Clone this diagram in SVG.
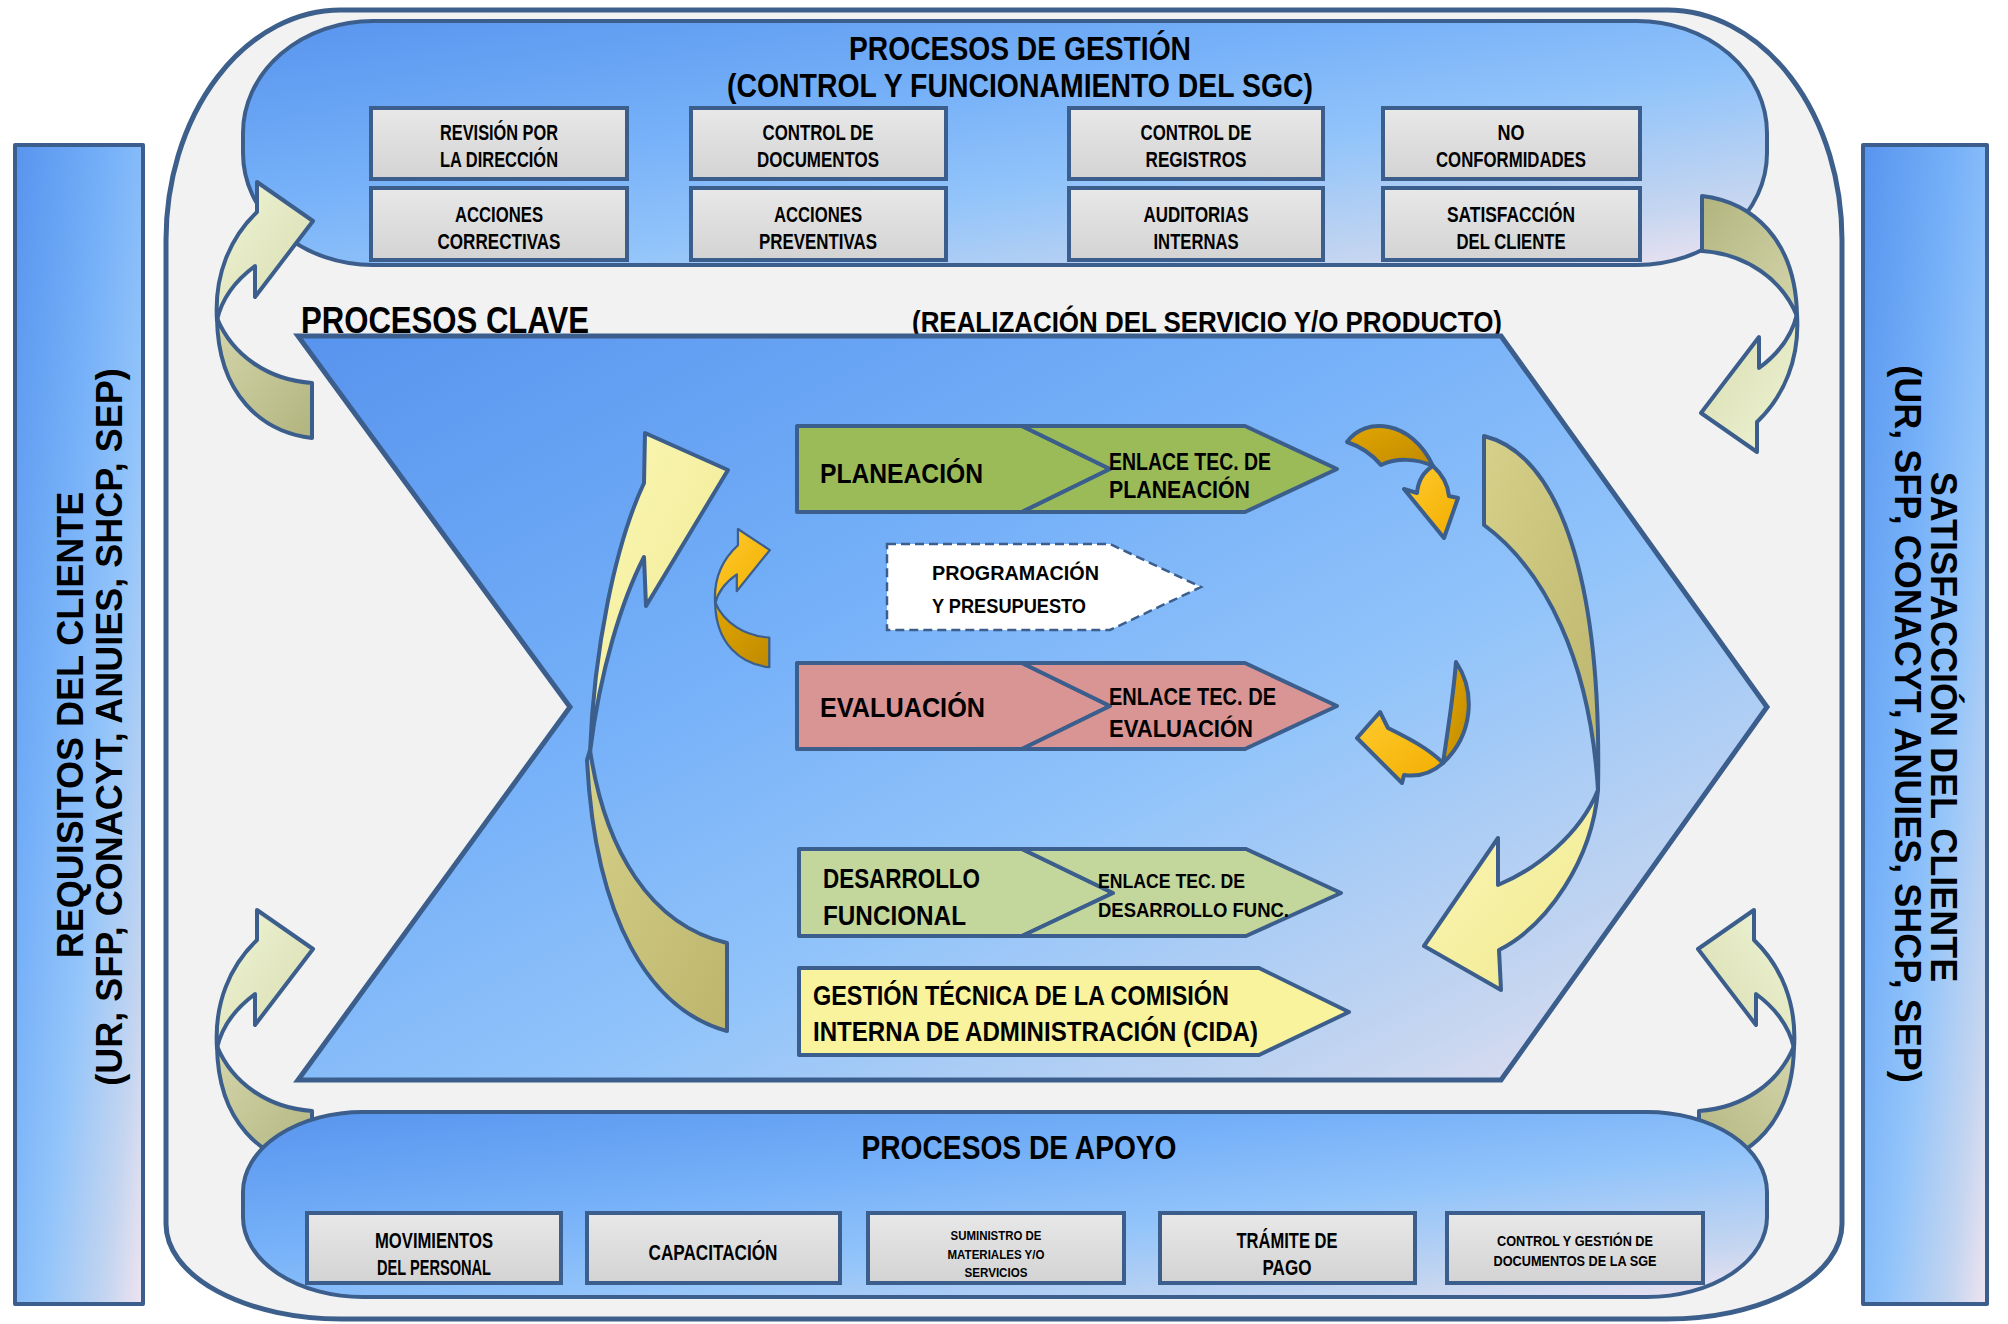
<svg xmlns="http://www.w3.org/2000/svg" width="2008" height="1324" viewBox="0 0 2008 1324">
<defs>
<linearGradient id="gBlue" x1="0" y1="0" x2="1" y2="1">
<stop offset="0" stop-color="#5894ee"/><stop offset="0.35" stop-color="#74aff8"/><stop offset="0.6" stop-color="#92c4fa"/><stop offset="0.85" stop-color="#c4d5f0"/><stop offset="1" stop-color="#f0e4f0"/>
</linearGradient>
<linearGradient id="gGray" x1="0" y1="0" x2="0" y2="1"><stop offset="0" stop-color="#e8e8e8"/><stop offset="1" stop-color="#d3d3d3"/></linearGradient>
<linearGradient id="gPale" x1="0" y1="0" x2="1" y2="1"><stop offset="0" stop-color="#f0f4d6"/><stop offset="1" stop-color="#d6dcae"/></linearGradient>
<linearGradient id="gOlive" x1="0" y1="0" x2="1" y2="1"><stop offset="0" stop-color="#d4d6ac"/><stop offset="1" stop-color="#b2b47e"/></linearGradient>
<linearGradient id="gYel" x1="0" y1="0" x2="1" y2="1"><stop offset="0" stop-color="#fbf8b6"/><stop offset="1" stop-color="#efe78e"/></linearGradient>
<linearGradient id="gYelD" x1="0" y1="0" x2="1" y2="1"><stop offset="0" stop-color="#d6d08a"/><stop offset="1" stop-color="#bdb56c"/></linearGradient>
<linearGradient id="gOr" x1="0" y1="0" x2="1" y2="1"><stop offset="0" stop-color="#ffcb2e"/><stop offset="1" stop-color="#f2ad00"/></linearGradient>
<linearGradient id="gOrD" x1="0" y1="0" x2="1" y2="1"><stop offset="0" stop-color="#e2a600"/><stop offset="1" stop-color="#c08a00"/></linearGradient>
<path id="caU" d="M 217 320 C 214 275 230 238 257 212 L 257 182 L 313 221 L 255 297 L 255 266 C 236 280 222 298 217 320 Z"/>
<path id="caL" d="M 217 318 C 232 355 268 380 312 383 L 312 438 C 262 432 218 395 217 318 Z"/>
</defs>
<style>
.ln{stroke:#3b5e8c;stroke-width:4;stroke-linejoin:round}
.box{fill:url(#gGray);stroke:#3b5e8c;stroke-width:4}
.t{font-family:"Liberation Sans Narrow","Liberation Sans",Arial,sans-serif;font-weight:bold;fill:#000;text-anchor:middle}
.k{font-family:"Liberation Sans",Arial,sans-serif;font-weight:bold;fill:#000}
.v{font-family:"Liberation Sans",Arial,sans-serif;font-weight:bold;font-size:36px;fill:#000;text-anchor:middle}
</style>
<rect width="2008" height="1324" fill="#ffffff"/>

<g id="requisitos">
<rect x="15" y="145" width="128" height="1159" fill="url(#gBlue)" class="ln"/>
<text class="v" transform="translate(83,725) rotate(-90)">REQUISITOS DEL CLIENTE</text>
<text class="v" transform="translate(122,727) rotate(-90)">(UR, SFP, CONACYT, ANUIES, SHCP, SEP)</text>
</g>
<g id="satisfaccion">
<rect x="1863" y="145" width="124" height="1159" fill="url(#gBlue)" class="ln"/>
<text class="v" transform="translate(1931,727) rotate(90)">SATISFACCIÓN DEL CLIENTE</text>
<text class="v" transform="translate(1895,724) rotate(90)">(UR, SFP, CONACYT, ANUIES, SHCP, SEP)</text>
</g>

<g id="contenedor">
<path d="M 341 10 H 1667 A 175 230 0 0 1 1842 240 V 1224 A 175 95 0 0 1 1667 1319 H 341 A 175 95 0 0 1 166 1224 V 240 A 175 230 0 0 1 341 10 Z" fill="#f2f2f2" stroke="#3d5f8b" stroke-width="5"/>
</g>

<g id="gestion">
<rect x="243" y="21" width="1524" height="244" rx="130" ry="112" fill="url(#gBlue)" class="ln"/>
<text class="t" x="1020" y="60" font-size="33" textLength="342" lengthAdjust="spacingAndGlyphs">PROCESOS DE GESTIÓN</text>
<text class="t" x="1020" y="97" font-size="33" textLength="586" lengthAdjust="spacingAndGlyphs">(CONTROL Y FUNCIONAMIENTO DEL SGC)</text>
</g>
<g id="g-revision"><rect class="box" x="371" y="108" width="256" height="71"/>
<text class="t" x="499" y="140" font-size="22" textLength="118" lengthAdjust="spacingAndGlyphs">REVISIÓN POR</text>
<text class="t" x="499" y="167" font-size="22" textLength="118" lengthAdjust="spacingAndGlyphs">LA DIRECCIÓN</text></g>
<g id="g-documentos"><rect class="box" x="691" y="108" width="255" height="71"/>
<text class="t" x="818" y="140" font-size="22" textLength="111" lengthAdjust="spacingAndGlyphs">CONTROL DE</text>
<text class="t" x="818" y="167" font-size="22" textLength="122" lengthAdjust="spacingAndGlyphs">DOCUMENTOS</text></g>
<g id="g-registros"><rect class="box" x="1069" y="108" width="254" height="71"/>
<text class="t" x="1196" y="140" font-size="22" textLength="111" lengthAdjust="spacingAndGlyphs">CONTROL DE</text>
<text class="t" x="1196" y="167" font-size="22" textLength="101" lengthAdjust="spacingAndGlyphs">REGISTROS</text></g>
<g id="g-noconf"><rect class="box" x="1383" y="108" width="257" height="71"/>
<text class="t" x="1511" y="140" font-size="22" textLength="27" lengthAdjust="spacingAndGlyphs">NO</text>
<text class="t" x="1511" y="167" font-size="22" textLength="150" lengthAdjust="spacingAndGlyphs">CONFORMIDADES</text></g>
<g id="g-correctivas"><rect class="box" x="371" y="188" width="256" height="72"/>
<text class="t" x="499" y="222" font-size="22" textLength="88" lengthAdjust="spacingAndGlyphs">ACCIONES</text>
<text class="t" x="499" y="249" font-size="22" textLength="123" lengthAdjust="spacingAndGlyphs">CORRECTIVAS</text></g>
<g id="g-preventivas"><rect class="box" x="691" y="188" width="255" height="72"/>
<text class="t" x="818" y="222" font-size="22" textLength="88" lengthAdjust="spacingAndGlyphs">ACCIONES</text>
<text class="t" x="818" y="249" font-size="22" textLength="118" lengthAdjust="spacingAndGlyphs">PREVENTIVAS</text></g>
<g id="g-auditorias"><rect class="box" x="1069" y="188" width="254" height="72"/>
<text class="t" x="1196" y="222" font-size="22" textLength="105" lengthAdjust="spacingAndGlyphs">AUDITORIAS</text>
<text class="t" x="1196" y="249" font-size="22" textLength="85" lengthAdjust="spacingAndGlyphs">INTERNAS</text></g>
<g id="g-satisfaccion"><rect class="box" x="1383" y="188" width="257" height="72"/>
<text class="t" x="1511" y="222" font-size="22" textLength="128" lengthAdjust="spacingAndGlyphs">SATISFACCIÓN</text>
<text class="t" x="1511" y="249" font-size="22" textLength="109" lengthAdjust="spacingAndGlyphs">DEL CLIENTE</text></g>

<g id="clave">
<text class="k" x="301" y="333" font-size="36" textLength="288" lengthAdjust="spacingAndGlyphs">PROCESOS CLAVE</text>
<text class="k" x="912" y="332" font-size="30" textLength="590" lengthAdjust="spacingAndGlyphs">(REALIZACIÓN DEL SERVICIO Y/O PRODUCTO)</text>
<polygon points="298,336 1501,336 1767,707 1501,1080 298,1080 570,707" fill="url(#gBlue)" stroke="#3b5e8c" stroke-width="5" stroke-linejoin="miter"/>
</g>

<g id="planeacion">
<polygon class="ln" points="797,426 1022,426 1110,469 1022,512 797,512" fill="#9bbb59" stroke-width="3"/>
<polygon class="ln" points="1022,426 1245,426 1337,469 1245,512 1022,512 1110,469" fill="#9bbb59" stroke-width="3"/>
<text class="k" x="820" y="483" font-size="28" textLength="163" lengthAdjust="spacingAndGlyphs">PLANEACIÓN</text>
<text class="k" x="1109" y="470" font-size="24" textLength="162" lengthAdjust="spacingAndGlyphs">ENLACE TEC. DE</text>
<text class="k" x="1109" y="498" font-size="24" textLength="141" lengthAdjust="spacingAndGlyphs">PLANEACIÓN</text>
</g>
<g id="programacion">
<polygon points="887,544 1110,544 1201,587 1110,630 887,630" fill="#ffffff" stroke="#3b5e8c" stroke-width="2.5" stroke-dasharray="9 5"/>
<text class="k" x="932" y="580" font-size="21" textLength="167" lengthAdjust="spacingAndGlyphs">PROGRAMACIÓN</text>
<text class="k" x="932" y="613" font-size="21" textLength="154" lengthAdjust="spacingAndGlyphs">Y PRESUPUESTO</text>
</g>
<g id="evaluacion">
<polygon class="ln" points="797,663 1022,663 1110,706 1022,749 797,749" fill="#d99594" stroke-width="3"/>
<polygon class="ln" points="1022,663 1245,663 1337,706 1245,749 1022,749 1110,706" fill="#d99594" stroke-width="3"/>
<text class="k" x="820" y="717" font-size="28" textLength="165" lengthAdjust="spacingAndGlyphs">EVALUACIÓN</text>
<text class="k" x="1109" y="705" font-size="24" textLength="167" lengthAdjust="spacingAndGlyphs">ENLACE TEC. DE</text>
<text class="k" x="1109" y="737" font-size="24" textLength="144" lengthAdjust="spacingAndGlyphs">EVALUACIÓN</text>
</g>
<g id="desarrollo">
<polygon class="ln" points="799,849 1022,849 1113,893 1022,936 799,936" fill="#c3d69b" stroke-width="3"/>
<polygon class="ln" points="1022,849 1246,849 1341,893 1246,936 1022,936 1113,893" fill="#c3d69b" stroke-width="3"/>
<text class="k" x="823" y="888" font-size="28" textLength="157" lengthAdjust="spacingAndGlyphs">DESARROLLO</text>
<text class="k" x="823" y="925" font-size="28" textLength="143" lengthAdjust="spacingAndGlyphs">FUNCIONAL</text>
<text class="k" x="1098" y="888" font-size="20" textLength="147" lengthAdjust="spacingAndGlyphs">ENLACE TEC. DE</text>
<text class="k" x="1098" y="917" font-size="20" textLength="191" lengthAdjust="spacingAndGlyphs">DESARROLLO FUNC.</text>
</g>
<g id="cida">
<polygon class="ln" points="799,968 1259,968 1349,1012 1259,1055 799,1055" fill="#f8f39c" stroke-width="3"/>
<text class="k" x="813" y="1005" font-size="28" textLength="416" lengthAdjust="spacingAndGlyphs">GESTIÓN TÉCNICA DE LA COMISIÓN</text>
<text class="k" x="813" y="1041" font-size="28" textLength="445" lengthAdjust="spacingAndGlyphs">INTERNA DE ADMINISTRACIÓN (CIDA)</text>
</g>

<g id="connectors">
<g id="arrow-tl"><use href="#caL" fill="url(#gOlive)" class="ln"/><use href="#caU" fill="url(#gPale)" class="ln"/></g>
<g id="arrow-tr" transform="rotate(180 1007 317)"><use href="#caL" fill="url(#gOlive)" class="ln"/><use href="#caU" fill="url(#gPale)" class="ln"/></g>
<g id="arrow-bl" transform="translate(0 728)"><use href="#caL" fill="url(#gOlive)" class="ln"/><use href="#caU" fill="url(#gPale)" class="ln"/></g>
<g id="arrow-br" transform="translate(2011 728) scale(-1 1)"><use href="#caL" fill="url(#gOlive)" class="ln"/><use href="#caU" fill="url(#gPale)" class="ln"/></g>
<g id="big-left">
<path class="ln" fill="url(#gYelD)" d="M 590 750 C 605 850 650 925 727 943 L 727 1031 C 650 1010 595 920 587 760 Z"/>
<path class="ln" fill="url(#gYel)" d="M 645 433 L 728 470 L 646 606 L 644 557 C 622 600 600 670 590 752 C 594 650 615 545 644 483 Z"/>
</g>
<g id="big-right">
<path class="ln" fill="url(#gYelD)" d="M 1484 436 C 1560 455 1602 580 1598 790 C 1590 660 1545 570 1484 525 Z"/>
<path class="ln" fill="url(#gYel)" d="M 1598 790 C 1592 860 1548 925 1499 950 L 1501 990 L 1424 946 L 1498 838 L 1498 885 C 1535 870 1580 835 1598 790 Z"/>
</g>
<g id="small-left" transform="translate(714 529) scale(0.57 0.54) translate(-215 -182)">
<use href="#caL" fill="url(#gOrD)" class="ln" stroke-width="7"/><use href="#caU" fill="url(#gOr)" class="ln" stroke-width="7"/>
</g>
<g id="small-ur">
<path class="ln" stroke-width="3.5" fill="url(#gOrD)" d="M 1347 442 C 1365 416 1412 420 1433 466 C 1416 458 1396 458 1381 465 C 1371 453 1359 446 1347 442 Z"/>
<path class="ln" stroke-width="3.5" fill="url(#gOr)" d="M 1433 466 C 1443 475 1448 486 1449 496 L 1458 498 L 1444 538 L 1404 489 L 1417 493 C 1418 482 1423 472 1433 466 Z"/>
</g>
<g id="small-lr">
<path class="ln" stroke-width="3.5" fill="url(#gOrD)" d="M 1456 662 C 1476 692 1473 735 1443 763 C 1447 735 1453 700 1456 662 Z"/>
<path class="ln" stroke-width="3.5" fill="url(#gOr)" d="M 1443 763 C 1432 773 1418 777 1404 775 L 1402 783 L 1357 738 L 1380 712 L 1388 728 C 1408 738 1428 748 1443 763 Z"/>
</g>
</g>

<g id="apoyo">
<rect x="243" y="1112" width="1524" height="185" rx="120" ry="80" fill="url(#gBlue)" class="ln"/>
<text class="t" x="1019" y="1159" font-size="33" textLength="315" lengthAdjust="spacingAndGlyphs">PROCESOS DE APOYO</text>
</g>
<g id="a-movimientos"><rect class="box" x="307" y="1213" width="254" height="70"/>
<text class="t" x="434" y="1248" font-size="22" textLength="118" lengthAdjust="spacingAndGlyphs">MOVIMIENTOS</text>
<text class="t" x="434" y="1275" font-size="22" textLength="114" lengthAdjust="spacingAndGlyphs">DEL PERSONAL</text></g>
<g id="a-capacitacion"><rect class="box" x="587" y="1213" width="253" height="70"/>
<text class="t" x="713" y="1260" font-size="22" textLength="129" lengthAdjust="spacingAndGlyphs">CAPACITACIÓN</text></g>
<g id="a-suministro"><rect class="box" x="868" y="1213" width="256" height="70"/>
<text class="t" x="996" y="1240" font-size="12" textLength="91" lengthAdjust="spacingAndGlyphs">SUMINISTRO DE</text>
<text class="t" x="996" y="1259" font-size="12" textLength="97" lengthAdjust="spacingAndGlyphs">MATERIALES Y/O</text>
<text class="t" x="996" y="1277" font-size="12" textLength="63" lengthAdjust="spacingAndGlyphs">SERVICIOS</text></g>
<g id="a-tramite"><rect class="box" x="1160" y="1213" width="255" height="70"/>
<text class="t" x="1287" y="1248" font-size="22" textLength="101" lengthAdjust="spacingAndGlyphs">TRÁMITE DE</text>
<text class="t" x="1287" y="1275" font-size="22" textLength="49" lengthAdjust="spacingAndGlyphs">PAGO</text></g>
<g id="a-control"><rect class="box" x="1447" y="1213" width="256" height="70"/>
<text class="t" x="1575" y="1246" font-size="14" textLength="156" lengthAdjust="spacingAndGlyphs">CONTROL Y GESTIÓN DE</text>
<text class="t" x="1575" y="1266" font-size="14" textLength="163" lengthAdjust="spacingAndGlyphs">DOCUMENTOS DE LA SGE</text></g>
</svg>
